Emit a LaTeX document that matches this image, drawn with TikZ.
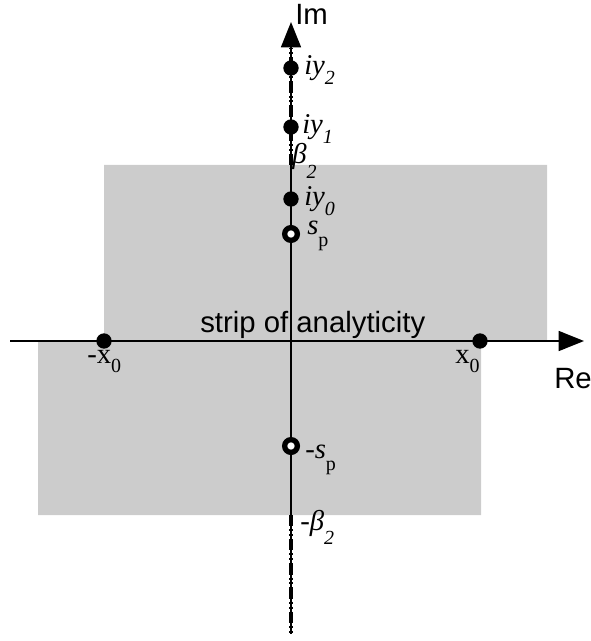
\documentclass[tikz,border=0pt]{standalone}
\usepackage{fontspec}
\setmainfont{Liberation Sans}
\newfontfamily\serifface{Liberation Serif}
\usetikzlibrary{arrows.meta}
\newcommand\lblfont{\serifface\fontsize{21.5}{22}\selectfont}
\newcommand\low[2]{\raisebox{-#1}{\fontsize{15}{16}\selectfont #2}}

\begin{document}
\begin{tikzpicture}[x=0.75pt, y=-0.75pt, >={Triangle[length=19pt,width=15pt]},
   axis/.style={line width=1.1pt},
   cut/.style={line width=3.6pt, dash pattern=on 8.5pt off 2.2pt on 1.5pt off 2.2pt on 1.5pt off 2.2pt},
   dot/.style={circle, fill=black, inner sep=0pt, minimum size=11.5pt},
   pole/.style={circle, draw, line width=4pt, fill=white, inner sep=0pt, minimum size=9.5pt},
   lbl/.style={anchor=base west, inner sep=0pt, font=\lblfont},
   word/.style={anchor=base west, inner sep=0pt, font=\fontsize{22}{24}\selectfont}]
  \useasboundingbox (0,0) rectangle (591,641);
  \fill[black!20] (104,165) -- (547,165) -- (547,341) -- (481,341) -- (481,515)
                  -- (38,515) -- (38,341) -- (104,341) -- cycle;
  \coordinate (west)  at (10,341);
  \coordinate (east)  at (584,341);
  \coordinate (south) at (291,634);
  \coordinate (north) at (291,22);
  \coordinate (cuttop) at (291,48);
  \coordinate (b2)  at (291,165);
  \coordinate (mb2) at (291,515);
  \draw[axis,->] (west) -- (east);
  \draw[axis,->] (south) -- (north);
  \draw[cut] (b2) -- (cuttop);
  \draw[cut] (mb2) -- (south);
  \node[dot]  (iy2) at (291,68)  {};
  \node[dot]  (iy1) at (291,127) {};
  \node[dot]  (iy0) at (291,199) {};
  \node[pole] (sp)  at (291,234) {};
  \node[pole] (msp) at (291,446) {};
  \node[dot]  (x0)  at (480,341) {};
  \node[dot]  (mx0) at (104,341) {};
  \node[word] (im) at (295,25)  {Im};
  \node[word] (re) at (554,388) {Re};
  \node[word] (strip) at (200,332) {strip of analyticity};
  \node[lbl] (liy2) at (304,75)  {\itshape iy\low{7.5pt}{2}};
  \node[lbl] (liy1) at (302,134) {\itshape iy\low{7.5pt}{1}};
  \node[lbl] (lb2)  at (292,164) {\itshape β\low{11pt}{2}};
  \node[lbl] (liy0) at (304,206) {\itshape iy\low{7.5pt}{0}};
  \node[lbl] (lsp)  at (307,235) {\itshape s\low{9pt}{\upshape p}};
  \node[lbl] (lmsp) at (305,458) {-\itshape s\low{9pt}{\upshape p}};
  \node[lbl] (lmb2) at (300,530) {-\itshape β\low{11pt}{2}};
  \node[lbl] (lx0)  at (455,363) {x\low{7pt}{0}};
  \node[lbl] (lmx0) at (87,363)  {-x\low{7pt}{0}};
\end{tikzpicture}
\end{document}
